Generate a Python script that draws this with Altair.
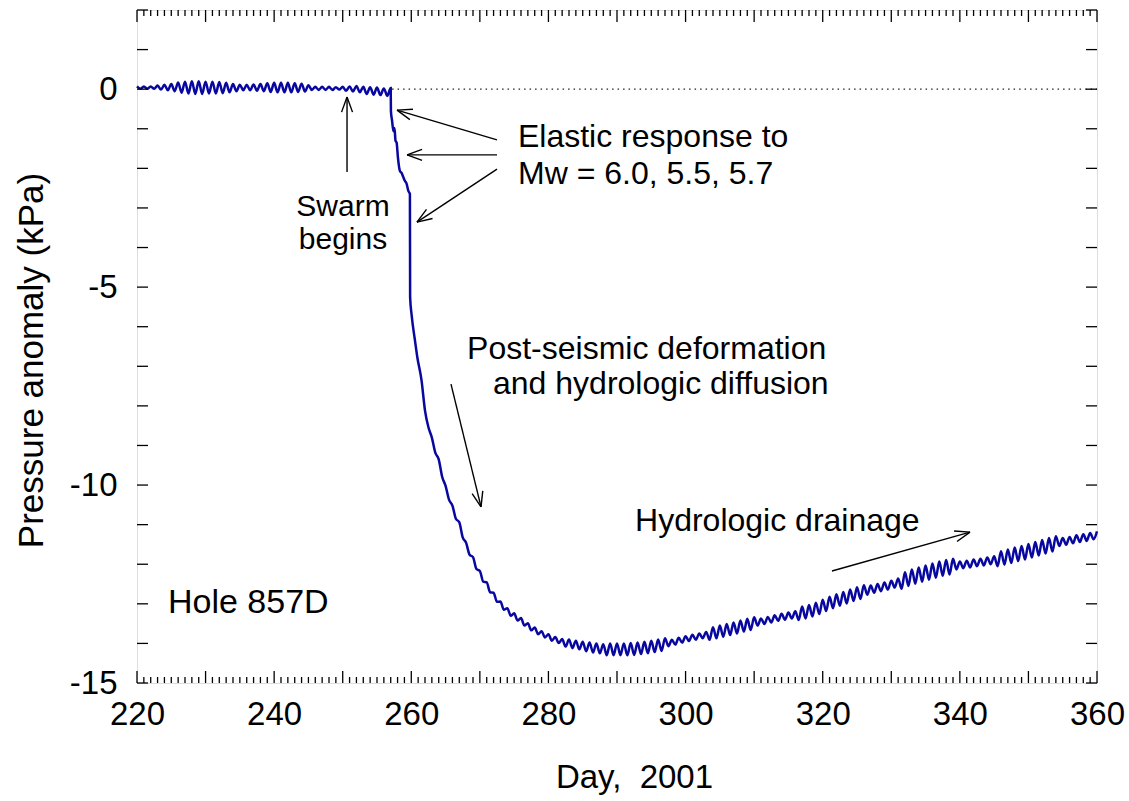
import math
import altair as alt
import pandas as pd

# ---------------- data ----------------
# pre-swarm: tidal highs at integer days 220..256, lows at 220.5..256.5
pre_high = [0.07, 0.07, 0.07, 0.09, 0.11, 0.13, 0.17, 0.19, 0.20, 0.20,
            0.19, 0.19, 0.18, 0.16, 0.13, 0.11, 0.11, 0.12, 0.13, 0.15,
            0.16, 0.16, 0.16, 0.15, 0.14, 0.10, 0.06, 0.06, 0.06, 0.05,
            0.06, 0.07, 0.08, 0.06, 0.05, 0.04, 0.02]
pre_low = [0.01, 0.01, 0.01, -0.01, -0.03, -0.05, -0.09, -0.11, -0.12, -0.12,
           -0.11, -0.11, -0.10, -0.08, -0.05, -0.03, -0.03, -0.04, -0.05, -0.07,
           -0.08, -0.08, -0.08, -0.07, -0.06, -0.02, -0.02, -0.02, -0.02, -0.01,
           -0.04, -0.06, -0.08, -0.12, -0.14, -0.15, -0.17]

# swarm: elastic steps and steep drop
swarm_days = [257.0, 257.03, 257.2, 257.4, 257.55, 257.7, 257.86, 258.05, 258.35,
              258.6, 258.83, 259.08, 259.3, 259.57, 259.8, 259.83, 260.06, 260.54,
              260.88, 261.5, 262.0]
swarm_vals = [0.03, -0.55, -0.8, -1.06, -0.98, -1.3, -1.35, -1.72, -2.07,
              -2.12, -2.22, -2.32, -2.38, -2.57, -2.65, -5.26, -5.72, -6.35,
              -6.77, -7.36, -8.12]

# post-swarm: lows at 262.5..359.5, highs at 263..360
post_low = [-8.54, -9.18, -9.79, -10.37, -10.85, -11.32, -11.76, -12.12, -12.44, -12.71,
            -12.95, -13.15, -13.30, -13.42, -13.55, -13.67, -13.77, -13.85, -13.93, -13.99,
            -14.08, -14.12, -14.15, -14.20, -14.23, -14.25, -14.30, -14.30, -14.30, -14.30,
            -14.29, -14.27, -14.25, -14.22, -14.19, -14.07, -14.03, -13.98, -13.94, -13.91,
            -13.87, -13.91, -13.87, -13.83, -13.79, -13.75, -13.70, -13.66, -13.55, -13.51,
            -13.47, -13.43, -13.40, -13.37, -13.41, -13.37, -13.32, -13.26, -13.18, -13.11,
            -13.05, -12.99, -12.93, -12.88, -12.77, -12.72, -12.68, -12.64, -12.59, -12.62,
            -12.55, -12.49, -12.44, -12.39, -12.34, -12.29, -12.26, -12.13, -12.10, -12.08,
            -12.05, -12.03, -12.00, -12.05, -12.01, -11.97, -11.92, -11.88, -11.83, -11.78,
            -11.73, -11.68, -11.54, -11.51, -11.47, -11.44, -11.41, -11.37]
post_high = [-8.80, -9.35, -10.02, -10.52, -10.94, -11.46, -11.82, -12.17, -12.46, -12.72,
             -12.94, -13.11, -13.24, -13.36, -13.49, -13.60, -13.69, -13.77, -13.84, -13.89,
             -13.90, -13.93, -13.96, -13.98, -14.00, -14.02, -14.00, -14.00, -14.00, -13.99,
             -13.98, -13.96, -13.93, -13.90, -13.87, -13.91, -13.86, -13.82, -13.78, -13.75,
             -13.71, -13.59, -13.55, -13.51, -13.47, -13.42, -13.38, -13.34, -13.37, -13.33,
             -13.29, -13.25, -13.22, -13.19, -13.07, -13.03, -12.97, -12.90, -12.82, -12.76,
             -12.70, -12.64, -12.58, -12.53, -12.54, -12.50, -12.46, -12.42, -12.36, -12.20,
             -12.13, -12.08, -12.03, -11.98, -11.93, -11.89, -11.86, -11.93, -11.91, -11.88,
             -11.86, -11.83, -11.80, -11.67, -11.63, -11.58, -11.54, -11.49, -11.44, -11.39,
             -11.34, -11.29, -11.34, -11.31, -11.27, -11.24, -11.21, -11.17]

x_labels = [220, 240, 260, 280, 300, 320, 340, 360]
y_labels = [0, -5, -10, -15]
x_title = "Day,\u00a0\u00a02001"
y_title = "Pressure anomaly (kPa)"

# annotations (data units)
swarm_text = ["Swarm", "begins"]
swarm_text_x = [250.04, 250.04]
swarm_text_y = [-2.98, -3.81]

note_text = ["Elastic response to", "Mw = 6.0, 5.5, 5.7",
             "Post-seismic deformation", "and hydrologic diffusion",
             "Hydrologic drainage"]
note_x = [275.56, 275.56, 268.13, 271.92, 292.63]
note_y = [-1.21, -2.14, -6.56, -7.45, -10.91]

hole_text = ["Hole 857D"]
hole_x = [224.52]
hole_y = [-12.98]

arrow_x0 = [250.63, 272.5, 272.5, 272.5, 265.79, 321.35]
arrow_y0 = [-2.09, -1.28, -1.66, -2.02, -7.45, -12.17]
arrow_x1 = [250.63, 257.92, 259.38, 260.83, 270.17, 341.48]
arrow_y1 = [-0.20, -0.53, -1.66, -3.36, -10.55, -11.19]

zero_line_start = 257.2

# ---------------- layout ----------------
W, H = 960, 673
XD = [220, 360]
YD = [-15, 2]
FONT = "Liberation Sans"

rows = []
for i, (h, l) in enumerate(zip(pre_high, pre_low)):
    rows.append((220 + i, h))
    rows.append((220.5 + i, l))
rows += list(zip(swarm_days, swarm_vals))
for i, (l, h) in enumerate(zip(post_low, post_high)):
    rows.append((262.5 + i, l))
    rows.append((263 + i, h))
df = pd.DataFrame(rows, columns=["day", "p"])

xs = alt.Scale(domain=XD, nice=False, zero=False)
ys = alt.Scale(domain=YD, nice=False, zero=False)


def X(field):
    return alt.X(field, scale=xs, title=x_title)


def Y(field):
    return alt.Y(field, scale=ys, title=y_title)


def to_px(x, y):
    return ((x - XD[0]) / (XD[1] - XD[0]) * W, (YD[1] - y) / (YD[1] - YD[0]) * H)


def to_data(px, py):
    return (XD[0] + px / W * (XD[1] - XD[0]), YD[1] - py / H * (YD[1] - YD[0]))


# arrow shafts and heads
seg = []
for x0, y0, x1, y1 in zip(arrow_x0, arrow_y0, arrow_x1, arrow_y1):
    seg.append((x0, y0, x1, y1))
    p0 = to_px(x0, y0)
    p1 = to_px(x1, y1)
    ang = math.atan2(p0[1] - p1[1], p0[0] - p1[0])
    for s in (-1, 1):
        a = ang + s * math.radians(20)
        bx, by = p1[0] + 16 * math.cos(a), p1[1] + 16 * math.sin(a)
        dx, dy = to_data(bx, by)
        seg.append((x1, y1, dx, dy))
arrows = pd.DataFrame(seg, columns=["x", "y", "x2", "y2"])

line = alt.Chart(df).mark_line(color="#0808a0", strokeWidth=2.5, interpolate="monotone").encode(
    x=alt.X("day:Q", scale=xs, title=x_title, axis=alt.Axis(
        values=x_labels, ticks=False, domain=False, grid=False, labelFlush=False,
        labelFontSize=33, labelPadding=15, labelFont=FONT, labelColor="black",
        titleFontSize=33, titleFont=FONT, titleX=497,
        titleFontWeight="normal", titleColor="black", titlePadding=30)),
    y=alt.Y("p:Q", scale=ys, title=y_title, axis=alt.Axis(
        values=y_labels, ticks=False, domain=False, grid=False, labelFlush=False,
        labelExpr="'' + datum.value",
        labelFontSize=33, labelPadding=20, labelFont=FONT, labelColor="black",
        titleFontSize=35, titleFont=FONT, titleY=350,
        titleFontWeight="normal", titleColor="black", titlePadding=20)),
)

zero_df = pd.DataFrame({"x": [zero_line_start], "x2": [XD[1]], "y": [0]})
zero = alt.Chart(zero_df).mark_rule(color="#222", strokeWidth=1.3, strokeDash=[1.5, 4]).encode(
    x=X("x:Q"), x2="x2:Q", y=Y("y:Q"))

maj_x = pd.DataFrame({"t": [d for d in range(220, 361) if d % 10 == 0]})
min_x = pd.DataFrame({"t": [d for d in range(220, 361) if d % 10 != 0]})
tick_y = pd.DataFrame({"t": list(range(-15, 3))})

tick_layers = []
for frame, ln in ((maj_x, 12), (min_x, 6)):
    tick_layers.append(alt.Chart(frame).mark_rule(color="black", strokeWidth=1.3).encode(
        x=X("t:Q"), y=alt.value(H), y2=alt.value(H - ln)))
    tick_layers.append(alt.Chart(frame).mark_rule(color="black", strokeWidth=1.3).encode(
        x=X("t:Q"), y=alt.value(0), y2=alt.value(ln)))
tick_layers.append(alt.Chart(tick_y).mark_rule(color="black", strokeWidth=1.3).encode(
    y=Y("t:Q"), x=alt.value(0), x2=alt.value(11)))
tick_layers.append(alt.Chart(tick_y).mark_rule(color="black", strokeWidth=1.3).encode(
    y=Y("t:Q"), x=alt.value(W), x2=alt.value(W - 11)))

arrow_layer = alt.Chart(arrows).mark_rule(color="black", strokeWidth=1.4).encode(
    x=X("x:Q"), y=Y("y:Q"), x2="x2:Q", y2="y2:Q")


def text_layer(labels, xv, yv, align, size):
    frame = pd.DataFrame({"x": xv, "y": yv, "t": labels})
    return alt.Chart(frame).mark_text(
        align=align, baseline="middle", fontSize=size, font=FONT, color="black").encode(
        x=X("x:Q"), y=Y("y:Q"), text="t:N")


text_layers = [
    text_layer(swarm_text, swarm_text_x, swarm_text_y, "center", 30),
    text_layer(note_text, note_x, note_y, "left", 32),
    text_layer(hole_text, hole_x, hole_y, "left", 34),
]

chart = alt.layer(line, zero, *tick_layers, arrow_layer, *text_layers).properties(
    width=W, height=H, autosize="none",
    padding={"left": 137, "top": 10, "right": 32, "bottom": 118},
).configure_view(stroke="black", strokeWidth=2).configure(background="white")

chart.save("out.html", embed_options={"renderer": "svg", "actions": False})
